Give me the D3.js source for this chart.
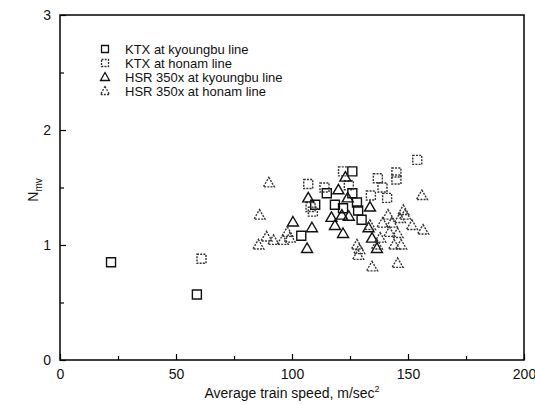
<!DOCTYPE html>
<html><head><meta charset="utf-8">
<script src="https://cdn.jsdelivr.net/npm/d3@7"></script>
<style>body{margin:0;background:#fff}</style>
</head><body>
<svg id="c" width="535" height="405"></svg>
<script>
const seriesNames = ["KTX at kyoungbu line","KTX at honam line","HSR 350x at kyoungbu line","HSR 350x at honam line"];
const ktxKyoungbu = [[22,0.85],[59,0.57],[104,1.08],[110,1.35],[115,1.45],[118.5,1.35],[122,1.32],[126,1.64],[126,1.45],[128,1.37],[128.5,1.30],[130,1.22]];
const ktxHonam = [[61,0.88],[107,1.53],[108,1.33],[109,1.29],[114,1.50],[122,1.64],[124.5,1.52],[134,1.43],[137,1.58],[139,1.50],[141,1.41],[145,1.63],[145,1.57],[154,1.74]];
const hsrKyoungbu = [[100.4,1.20],[106.5,0.97],[107,1.41],[108.6,1.15],[117,1.24],[118.5,1.17],[120,1.48],[121.5,1.26],[122,1.10],[123,1.59],[124,1.41],[124.5,1.25],[133.6,1.33],[133,1.15],[134.5,1.06],[136.6,0.97]];
const hsrHonam = [[85.5,1.0],[86,1.26],[89,1.07],[90,1.54],[92,1.04],[96,1.04],[98,1.11],[99,1.06],[128,1.0],[129,0.96],[128.5,0.91],[133.6,1.17],[134.5,0.81],[136.6,1.0],[138,1.06],[139,1.19],[141.4,1.26],[142,1.11],[143,1.19],[144,1.0],[145.5,1.10],[145.5,0.84],[146.5,1.23],[147,1.0],[148,1.30],[148.7,1.26],[151.7,1.17],[156,1.43],[156.5,1.13]];
const xTicks = [0,50,100,150,200];
const yTicks = [0,1,2,3];

const svg = d3.select("#c");
const font = "'Liberation Sans', Arial, sans-serif";
const x = d3.scaleLinear().domain([0,200]).range([60,524]);
const y = d3.scaleLinear().domain([0,3]).range([360,15]);

const styles = [
  {sym:"square", dash:null, color:"#111"},
  {sym:"square", dash:"2,1.2", color:"#333"},
  {sym:"triangle", dash:null, color:"#111"},
  {sym:"triangle", dash:"2,1.2", color:"#333"}
];
const datasets = [ktxKyoungbu, ktxHonam, hsrKyoungbu, hsrHonam];

function symPath(type){
  if(type==="square") return "M-4.5,-4.5H4.5V4.5H-4.5Z";
  return "M0,-5.5L5.5,4L-5.5,4Z";
}

datasets.forEach((ds,i)=>{
  const st = styles[i];
  svg.append("g").selectAll("path").data(ds).join("path")
    .attr("d", symPath(st.sym))
    .attr("transform", d=>`translate(${x(d[0])},${y(d[1])})`)
    .attr("fill","none").attr("stroke",st.color).attr("stroke-width",1.4)
    .attr("stroke-dasharray", st.dash);
});

svg.append("rect").attr("x",60).attr("y",15).attr("width",464).attr("height",345)
  .attr("fill","none").attr("stroke","#000").attr("stroke-width",1.5);

const xAxis = d3.axisBottom(x).tickValues(xTicks).tickSize(-6).tickPadding(9).tickFormat(d3.format("d"));
const gx = svg.append("g").attr("transform","translate(0,360)").call(xAxis);
gx.select(".domain").remove();
gx.selectAll("text").attr("font-family",font).attr("font-size",14).attr("fill","#111");
const xMinor = d3.axisBottom(x).tickValues([25,75,125,175]).tickSize(-4).tickFormat("");
svg.append("g").attr("transform","translate(0,360)").call(xMinor).select(".domain").remove();

const yAxis = d3.axisLeft(y).tickValues(yTicks).tickSize(-6).tickPadding(9).tickFormat(d3.format("d"));
const gy = svg.append("g").attr("transform","translate(60,0)").call(yAxis);
gy.select(".domain").remove();
gy.selectAll("text").attr("font-family",font).attr("font-size",14).attr("fill","#111");
const yMinor = d3.axisLeft(y).tickValues([0.5,1.5,2.5]).tickSize(-4).tickFormat("");
svg.append("g").attr("transform","translate(60,0)").call(yMinor).select(".domain").remove();
svg.selectAll(".tick line").attr("stroke-width",1.2);

const xt = svg.append("text").attr("x",292).attr("y",398).attr("text-anchor","middle")
  .attr("font-family",font).attr("font-size",14).attr("fill","#111");
xt.append("tspan").text("Average train speed, m/sec");
xt.append("tspan").attr("font-size",9).attr("dy",-6).text("2");

const yt = svg.append("text").attr("transform","translate(38,190) rotate(-90)").attr("text-anchor","middle")
  .attr("font-family",font).attr("font-size",14).attr("fill","#111");
yt.append("tspan").text("N");
yt.append("tspan").attr("font-size",10).attr("dy",4).text("mv");

const legY = [49,63,77,91];
seriesNames.forEach((name,i)=>{
  const st = styles[i];
  const s = st.sym==="square" ? "M-3.5,-3.5H3.5V3.5H-3.5Z" : "M0,-4.5L4.5,3.5L-4.5,3.5Z";
  svg.append("path").attr("d",s).attr("transform",`translate(105,${legY[i]})`)
    .attr("fill","none").attr("stroke",st.color).attr("stroke-width",1.3).attr("stroke-dasharray",st.dash);
  svg.append("text").attr("x",125).attr("y",legY[i]+4.5).attr("font-family",font).attr("font-size",13).attr("fill","#111").text(name);
});
</script>
</body></html>
